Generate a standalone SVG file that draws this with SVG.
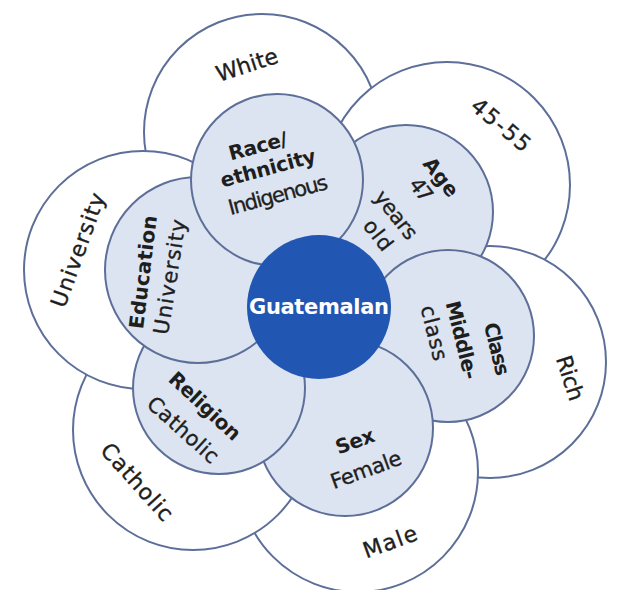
<svg xmlns="http://www.w3.org/2000/svg" width="621" height="590" viewBox="0 0 621 590">
<style>
.outer{fill:#ffffff;stroke:#5d6f99;stroke-width:2}
.inner{fill:#dce4f1;stroke:#5d6f99;stroke-width:2}
.core{fill:#2157b2}
text{font-family:"DejaVu Sans","Liberation Sans",sans-serif;fill:#1e1e1e;text-anchor:middle;dominant-baseline:central}
.v{font-size:21px;stroke:#1e1e1e;stroke-width:0.35}
.c{font-size:20px;font-weight:bold}
.o{font-size:22px;stroke:#1e1e1e;stroke-width:0.35}
.w{fill:#ffffff;font-size:21px;font-weight:bold}
</style>
<rect width="621" height="590" fill="#ffffff"/>
<g id="outer-white"><circle class="outer" cx="262" cy="132" r="118"/><text class="o" transform="translate(247,65) rotate(-18)" textLength="64">White</text></g>
<g id="outer-age"><circle class="outer" cx="447" cy="185" r="123"/><text class="o" transform="translate(501,125) rotate(40)" textLength="70">45-55</text></g>
<g id="outer-rich"><circle class="outer" cx="490" cy="362" r="116"/><text class="o" transform="translate(570,378) rotate(72)" textLength="46">Rich</text></g>
<g id="outer-male"><circle class="outer" cx="358" cy="472" r="120"/><text class="o" transform="translate(390,542) rotate(-20)" textLength="56">Male</text></g>
<g id="outer-catholic"><circle class="outer" cx="193" cy="430" r="120"/><text class="o" transform="translate(137,482) rotate(48)" textLength="96">Catholic</text></g>
<g id="outer-university"><circle class="outer" cx="143" cy="270" r="119"/><text class="o" transform="translate(78,250) rotate(-70)" textLength="120">University</text></g>
<g id="age"><circle class="inner" cx="406" cy="212" r="87"/>
<text class="c" transform="translate(441,177) rotate(52)" textLength="44">Age</text>
<text class="v" transform="translate(421,190) rotate(52)" textLength="24">47</text>
<text class="v" transform="translate(396,215) rotate(52)" textLength="56">years</text>
<text class="v" transform="translate(378,235) rotate(52)" textLength="34">old</text></g>
<g id="class"><circle class="inner" cx="448" cy="336" r="86"/>
<text class="c" transform="translate(497,349) rotate(76)" textLength="54">Class</text>
<text class="c" transform="translate(462,340) rotate(76)" textLength="80">Middle-</text>
<text class="v" transform="translate(434,333) rotate(76)" textLength="56">class</text></g>
<g id="sex"><circle class="inner" cx="345" cy="428" r="88"/>
<text class="c" transform="translate(355,441) rotate(-20)" textLength="40">Sex</text>
<text class="v" transform="translate(366,470) rotate(-20)" textLength="74">Female</text></g>
<g id="religion"><circle class="inner" cx="219" cy="388" r="86"/>
<text class="c" transform="translate(205,406) rotate(43)" textLength="90">Religion</text>
<text class="v" transform="translate(183,430) rotate(42)" textLength="88">Catholic</text></g>
<g id="education"><circle class="inner" cx="198" cy="270" r="93"/>
<text class="c" transform="translate(143,272) rotate(-83)" textLength="114">Education</text>
<text class="v" transform="translate(170,277) rotate(-81)" textLength="116">University</text></g>
<g id="race"><circle class="inner" cx="277" cy="180" r="86"/>
<text class="c" transform="translate(258,146) rotate(-15)" textLength="60">Race/</text>
<text class="c" transform="translate(268,168) rotate(-15)" textLength="98">ethnicity</text>
<text class="v" transform="translate(278,195) rotate(-15)" textLength="102">Indigenous</text></g>
<g id="center"><circle class="core" cx="319" cy="307" r="72"/><text class="w" x="319" y="307" textLength="140">Guatemalan</text></g>
<g id="connectors"/>
</svg>
